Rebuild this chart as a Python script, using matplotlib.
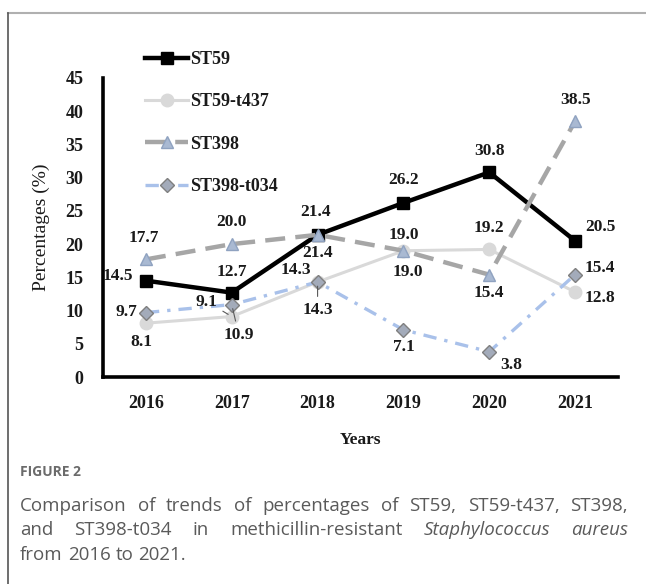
import matplotlib
matplotlib.use('Agg')
import matplotlib.pyplot as plt
from matplotlib.lines import Line2D

# data
years = ['2016', '2017', '2018', '2019', '2020', '2021']
st59 = [14.5, 12.7, 21.4, 26.2, 30.8, 20.5]
st59_t437 = [8.1, 9.1, 14.3, 19.0, 19.2, 12.8]
st398 = [17.7, 20.0, 21.4, 19.0, 15.4, 38.5]
st398_t034 = [9.7, 10.9, 14.3, 7.1, 3.8, 15.4]
names = ['ST59', 'ST59-t437', 'ST398', 'ST398-t034']

W, H = 646, 584
PX = 72 / 100  # pixels -> points

plt.rcParams['font.family'] = ['Liberation Serif', 'DejaVu Serif']

fig = plt.figure(figsize=(W / 100, H / 100), dpi=100)

# frame of the figure box
fig.add_artist(Line2D([8 / W, 1], [1 - 13 / H, 1 - 13 / H], color='#b0b0b0', lw=1.5))
fig.add_artist(Line2D([8 / W, 8 / W], [0, 1 - 13 / H], color='#555555', lw=1.2))

ax = fig.add_axes([103 / W, (H - 377) / H, (618 - 103) / W, (377 - 78) / H])
x = list(range(len(years)))

styles = [
    dict(color='black', lw=3.2, marker='s', ms=8, mfc='black', mec='black'),
    dict(color='#d9d9d9', lw=2.2, marker='o', ms=9, mfc='#d9d9d9', mec='#d9d9d9'),
    dict(color='#a6a6a6', lw=3.2, marker='^', ms=9, mfc='#a9b9d2', mec='#8fa2c0',
         dashes=(4.5, 2.3)),
    dict(color='#a9c1ea', lw=2.4, marker='D', ms=7, mfc='#a3abba', mec='#7f7f7f',
         dashes=(4, 2.4, 1, 2.4)),
]
series = [st59, st59_t437, st398, st398_t034]

handles = []
for vals, st, name in zip(series, styles, names):
    h, = ax.plot(x, vals, label=name, **st)
    handles.append(h)

# label offsets (pixels, right/up) and whether a leader line is drawn
offsets = [
    [(-28, 5), (0, 21), (-2, 23), (0, 23), (0, 21), (25, 14)],
    [(-5, -19), (-25, 15), (0, -28), (0, 16), (0, 21), (25, -6)],
    [(-2, 21), (0, 22), (0, -18), (4, -21), (0, -18), (0, 21)],
    [(-20, 1), (7, -30), (-22, 12), (0, -17), (22, -13), (25, 7)],
]
leaders = {(1, 1), (1, 2), (3, 1)}

for si, vals in enumerate(series):
    for i, v in enumerate(vals):
        dx, dy = offsets[si][i]
        arrow = None
        if (si, i) in leaders:
            arrow = dict(arrowstyle='-', color='#595959', lw=0.8, shrinkA=2, shrinkB=3)
        ax.annotate(f'{v:.1f}', (i, v), xytext=(dx * PX, dy * PX),
                    textcoords='offset points', ha='center', va='center',
                    fontsize=12.5, fontweight='bold', color='#1a1a1a',
                    arrowprops=arrow, zorder=5)

ax.set_xlim(-0.5, 5.5)
ax.set_ylim(0, 45)
ax.set_yticks(range(0, 46, 5))
ax.set_xticks(x)
ax.set_xticklabels(years)
for s in ['top', 'right']:
    ax.spines[s].set_visible(False)
for s in ['left', 'bottom']:
    ax.spines[s].set_linewidth(2.6)
    ax.spines[s].set_color('black')
ax.tick_params(length=0, labelsize=13, colors='#1a1a1a')
ax.tick_params(axis='y', pad=14)
ax.tick_params(axis='x', pad=13)
for lab in ax.get_xticklabels() + ax.get_yticklabels():
    lab.set_fontweight('bold')

ax.set_ylabel('Percentages (%)', fontsize=14, color='#1a1a1a')
ax.yaxis.set_label_coords((50 - 103) / 515, 0.5)
ax.set_xlabel('Years', fontsize=12.5, fontweight='bold', color='#1a1a1a')
ax.xaxis.set_label_coords(0.5, -(432 - 377) / 299)

leg = ax.legend(handles=handles, loc='upper left', bbox_to_anchor=(136 / W, 1 - 42 / H),
                bbox_transform=fig.transFigure, frameon=False, borderpad=0,
                handlelength=2.4, handletextpad=0.1, labelspacing=1.4, numpoints=1,
                prop=dict(family='Liberation Serif', weight='bold', size=13))
for t in leg.get_texts():
    t.set_color('#1a1a1a')

# caption
cap_col = '#5a5a5a'
cap_size = 13.5
fig.text(20 / W, 1 - 472 / H, 'FIGURE 2', fontsize=10, fontweight='bold',
         family='Open Sans', color='#6b6b6b', va='center')

renderer = fig.canvas.get_renderer()
left, right = 20, 628


def put_line(words, ypx, justify=True):
    arts = []
    for w, it in words:
        t = fig.text(0, 1 - ypx / H, w, fontsize=cap_size, family='Open Sans',
                     style='italic' if it else 'normal', color=cap_col, va='center')
        arts.append(t)
    widths = [a.get_window_extent(renderer).width for a in arts]
    if justify and len(arts) > 1:
        gap = (right - left - sum(widths)) / (len(arts) - 1)
    else:
        gap = 0.27 * cap_size / PX
    xpos = left
    for a, wd in zip(arts, widths):
        a.set_x(xpos / W)
        xpos += wd + gap


line1 = 'Comparison of trends of percentages of ST59, ST59-t437, ST398,'.split()
put_line([(w, False) for w in line1], 506)
put_line([('and', False), ('ST398-t034', False), ('in', False),
          ('methicillin-resistant', False), ('Staphylococcus', True), ('aureus', True)], 530)
put_line([(w, False) for w in 'from 2016 to 2021.'.split()], 555, justify=False)

fig.savefig('out.png', dpi=100)
